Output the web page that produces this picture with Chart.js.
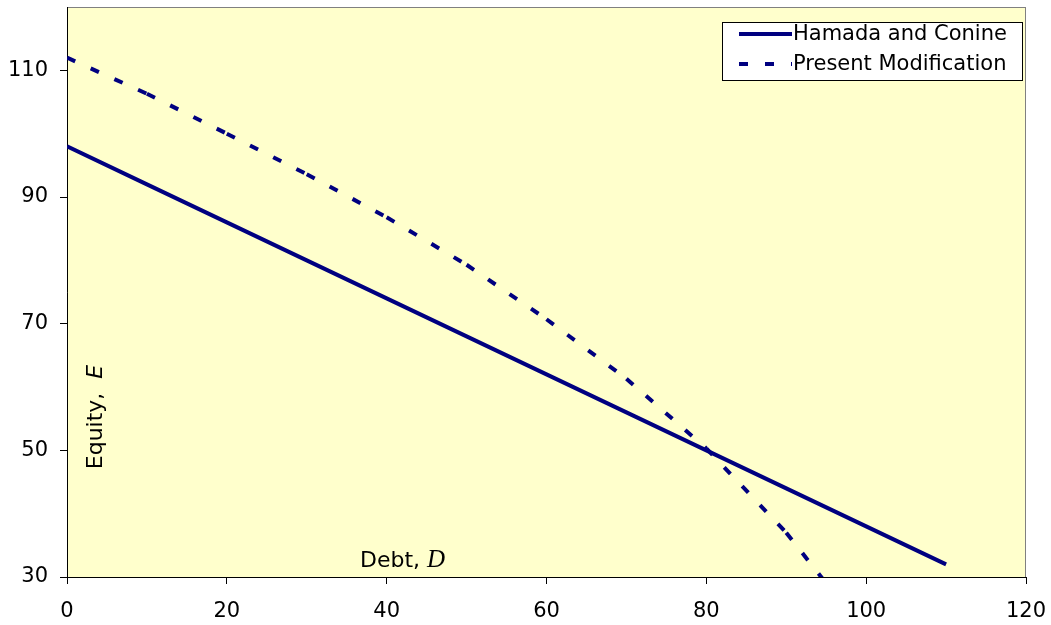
<!DOCTYPE html>
<html>
<head>
<meta charset="utf-8">
<script src="https://cdn.jsdelivr.net/npm/chart.js@4/dist/chart.umd.min.js"></script>
<style>
  html, body { margin: 0; padding: 0; background: #fff; }
  #wrap { width: 1051px; height: 625px; }
</style>
</head>
<body>
<div id="wrap"><canvas id="equityChart" width="1051" height="625"></canvas></div>
<script>
const debt = [0, 10, 20, 30, 40, 50, 60, 70, 80, 90, 100, 110];
const hamadaConine = [98, 92, 86, 80, 74, 68, 62, 56, 50, 44, 38, 32];
const presentModification = [112, 106.3, 100, 93.6, 86.8, 79.3, 70.7, 61.3, 50.3, 37, 21];
const yTicks = [30, 50, 70, 90, 110];
const xTicks = [0, 20, 40, 60, 80, 100, 120];

const navy = "#000080";
const sans = "'DejaVu Sans', sans-serif";

function points(xs, ys) {
  return ys.map((y, i) => ({ x: xs[i], y: y }));
}

// yellow plot area with the grey frame
const plotBackground = {
  id: "plotBackground",
  beforeDraw(chart) {
    const { ctx, chartArea: a } = chart;
    ctx.save();
    ctx.fillStyle = "#FFFFCC";
    ctx.fillRect(a.left, a.top, a.right - a.left, a.bottom - a.top);
    ctx.strokeStyle = "#808080";
    ctx.lineWidth = 1;
    ctx.strokeRect(a.left + 0.5, a.top + 0.5, a.right - a.left - 1, a.bottom - a.top);
    ctx.restore();
  },
};

// axis titles sit inside the plot, with italic letters
const axisTitles = {
  id: "axisTitles",
  afterDatasetsDraw(chart) {
    const { ctx, chartArea: a } = chart;
    ctx.save();
    ctx.fillStyle = "#000";
    ctx.textBaseline = "alphabetic";

    // x title
    ctx.font = "22px " + sans;
    const part1 = "Debt, ";
    const x0 = a.left + 293;
    const base = a.bottom - 10;
    ctx.fillText(part1, x0, base);
    const w1 = ctx.measureText(part1).width;
    ctx.font = "italic 25px 'Liberation Serif', serif";
    ctx.fillText("D", x0 + w1, base);

    // y title
    ctx.translate(a.left + 35, 417);
    ctx.rotate(-Math.PI / 2);
    ctx.font = "22px " + sans;
    const part2 = "Equity,  ";
    const w2 = ctx.measureText(part2).width;
    ctx.font = "italic 22px " + sans;
    const w3 = ctx.measureText("E").width;
    const start = -(w2 + w3) / 2;
    ctx.font = "22px " + sans;
    ctx.fillText(part2, start, 0);
    ctx.font = "italic 22px " + sans;
    ctx.fillText("E", start + w2, 0);
    ctx.restore();
  },
};

// boxed legend in the upper right corner
const boxLegend = {
  id: "boxLegend",
  afterDraw(chart) {
    const { ctx, chartArea: a } = chart;
    const right = a.right - 3;
    const left = right - 301;
    const top = a.top + 15;
    const rowH = 30;
    ctx.save();
    ctx.fillStyle = "#fff";
    ctx.fillRect(left, top, right - left, 58);
    ctx.strokeStyle = "#000";
    ctx.lineWidth = 1;
    ctx.strokeRect(left + 0.5, top + 0.5, right - left - 1, 58);
    ctx.font = "21px " + sans;
    ctx.textBaseline = "middle";
    chart.data.datasets.forEach((ds, i) => {
      const y = top + 12 + i * rowH;
      ctx.strokeStyle = ds.borderColor;
      ctx.lineWidth = 4;
      ctx.setLineDash(ds.borderDash || []);
      ctx.beginPath();
      ctx.moveTo(left + 17, y);
      ctx.lineTo(left + 70, y);
      ctx.stroke();
      ctx.setLineDash([]);
      ctx.fillStyle = "#000";
      ctx.fillText(ds.label, left + 71, y + 1);
    });
    ctx.restore();
  },
};

new Chart(document.getElementById("equityChart"), {
  type: "line",
  data: {
    datasets: [
      {
        label: "Hamada and Conine",
        data: points(debt, hamadaConine),
        borderColor: navy,
        borderWidth: 4,
        pointRadius: 0,
        tension: 0,
        clip: 0,
      },
      {
        label: "Present Modification",
        data: points(debt, presentModification),
        borderColor: navy,
        borderWidth: 4,
        borderDash: [9, 17],
        borderCapStyle: "butt",
        pointRadius: 0,
        tension: 0,
        clip: 0,
        // restart the dash pattern at every point, like the original
        segment: {
          borderDashOffset: (c) => (c.p0DataIndex % 2 ? 0.001 : 0),
        },
      },
    ],
  },
  options: {
    responsive: false,
    animation: false,
    layout: { padding: { top: 7, right: 25, left: 0, bottom: 0 } },
    plugins: {
      legend: { display: false },
      tooltip: { enabled: false },
    },
    scales: {
      x: {
        type: "linear",
        min: 0,
        max: 120,
        afterBuildTicks(axis) {
          axis.ticks = xTicks.map((v) => ({ value: v }));
        },
        afterFit(axis) {
          axis.height = 48;
          axis.paddingLeft = 0;
          axis.paddingRight = 0;
        },
        grid: { drawOnChartArea: false, tickLength: 7, color: "#000" },
        border: { color: "#000", width: 1 },
        ticks: { color: "#000", padding: 15, maxRotation: 0, font: { family: sans, size: 21 } },
      },
      y: {
        min: 30,
        max: 120,
        afterBuildTicks(axis) {
          axis.ticks = yTicks.map((v) => ({ value: v }));
        },
        afterFit(axis) {
          axis.width = 67;
          axis.paddingTop = 0;
          axis.paddingBottom = 0;
        },
        grid: { drawOnChartArea: false, tickLength: 7, color: "#000" },
        border: { color: "#000", width: 1 },
        ticks: { color: "#000", padding: 12, font: { family: sans, size: 21 } },
      },
    },
  },
  plugins: [plotBackground, axisTitles, boxLegend],
});
</script>
</body>
</html>
